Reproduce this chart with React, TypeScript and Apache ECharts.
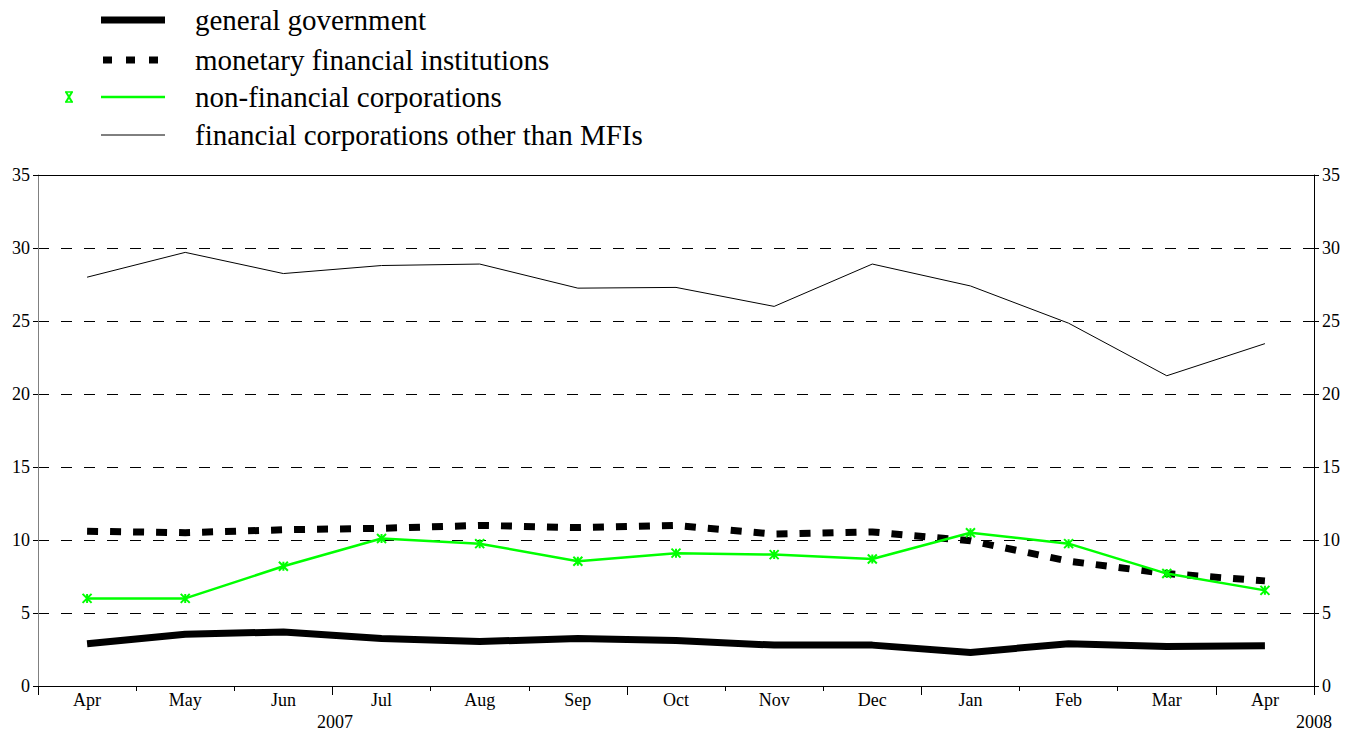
import React, { useEffect, useRef } from "react";
import * as echarts from "echarts";

const months = ["Apr", "May", "Jun", "Jul", "Aug", "Sep", "Oct", "Nov", "Dec", "Jan", "Feb", "Mar", "Apr"];
const years = ["2007", "2008"];

const seriesNames = [
  "general government",
  "monetary financial institutions",
  "non-financial corporations",
  "financial corporations other than MFIs",
];

const generalGovernment = [2.9, 3.55, 3.7, 3.25, 3.05, 3.25, 3.12, 2.8, 2.8, 2.3, 2.9, 2.7, 2.75];
const monetaryFinancial = [10.6, 10.5, 10.7, 10.8, 11.0, 10.85, 11.0, 10.4, 10.55, 9.95, 8.55, 7.7, 7.2];
const nonFinancial = [6.0, 6.0, 8.2, 10.1, 9.75, 8.55, 9.1, 9.0, 8.7, 10.5, 9.75, 7.7, 6.55];
const otherFinancial = [28.0, 29.7, 28.25, 28.8, 28.9, 27.25, 27.3, 26.0, 28.9, 27.4, 24.85, 21.25, 23.45];

const FONT = "Liberation Serif";
const GREEN = "#00ff00";
const categories = months.map((m, i) => m + "-" + i);
const STAR = "path://M0,0L10,10M10,0L0,10M5,0L5,10";

export default function App() {
  const ref = useRef<HTMLDivElement>(null);
  useEffect(() => {
    document.body.style.margin = "0";
    const chart = echarts.init(ref.current!, null, { renderer: "svg" });
    const legendY = [20, 60, 97, 135];
    const lx0 = 101, lx1 = 165, tx = 195;
    const g: any[] = [];
    g.push({ type: "line", shape: { x1: lx0, y1: legendY[0], x2: lx1, y2: legendY[0] }, style: { stroke: "#000", lineWidth: 7 } });
    [0, 1, 2].forEach((k) => {
      g.push({ type: "rect", shape: { x: lx0 + 2 + k * 23, y: legendY[1] - 3.5, width: 9, height: 7 }, style: { fill: "#000" } });
    });
    g.push({ type: "line", shape: { x1: lx0, y1: legendY[2], x2: lx1, y2: legendY[2] }, style: { stroke: GREEN, lineWidth: 2.5 } });
    g.push({ type: "line", shape: { x1: 66, y1: legendY[2] - 5, x2: 72, y2: legendY[2] + 5 }, style: { stroke: GREEN, lineWidth: 2 } });
    g.push({ type: "line", shape: { x1: 72, y1: legendY[2] - 5, x2: 66, y2: legendY[2] + 5 }, style: { stroke: GREEN, lineWidth: 2 } });
    g.push({ type: "line", shape: { x1: 65, y1: legendY[2] - 5, x2: 73, y2: legendY[2] - 5 }, style: { stroke: GREEN, lineWidth: 1.5 } });
    g.push({ type: "line", shape: { x1: 65, y1: legendY[2] + 5, x2: 73, y2: legendY[2] + 5 }, style: { stroke: GREEN, lineWidth: 1.5 } });
    g.push({ type: "line", shape: { x1: lx0, y1: legendY[3], x2: lx1, y2: legendY[3] }, style: { stroke: "#000", lineWidth: 1 } });
    seriesNames.forEach((n, i) => {
      g.push({
        type: "text",
        x: tx,
        y: legendY[i],
        style: { text: n, fontFamily: FONT, fontSize: 29, fill: "#000", verticalAlign: "middle" },
      });
    });
    g.push({ type: "text", x: 335, y: 722, style: { text: years[0], fontFamily: FONT, fontSize: 18, fill: "#000", align: "center", verticalAlign: "middle" } });
    g.push({ type: "text", x: 1314, y: 722, style: { text: years[1], fontFamily: FONT, fontSize: 18, fill: "#000", align: "center", verticalAlign: "middle" } });

    const yAxisCommon = {
      type: "value",
      min: 0,
      max: 35,
      interval: 5,
      axisTick: { show: true, length: 5, lineStyle: { color: "#000" } },
      axisLabel: { fontFamily: FONT, fontSize: 18, color: "#000", margin: 8 },
    };

    chart.setOption({
      animation: false,
      backgroundColor: "#fff",
      textStyle: { fontFamily: FONT },
      grid: { left: 38, right: 45, top: 175, bottom: 48, containLabel: false },
      xAxis: [
        {
          type: "category",
          data: categories,
          boundaryGap: true,
          position: "bottom",
          axisLine: { show: true, onZero: false, lineStyle: { color: "#000", width: 1 } },
          axisTick: { show: true, length: 5, interval: 0, lineStyle: { color: "#000" } },
          axisLabel: { fontFamily: FONT, fontSize: 18, color: "#000", margin: 5, interval: 0, formatter: (v: string) => v.split("-")[0] },
          splitLine: { show: false },
        },
        {
          type: "category",
          data: categories,
          boundaryGap: true,
          position: "bottom",
          axisLine: { show: false, onZero: false },
          axisTick: { show: true, length: 9, interval: (i: number) => i % 3 === 0, lineStyle: { color: "#000" } },
          axisLabel: { show: false },
          splitLine: { show: false },
        },
        {
          type: "category",
          data: categories,
          position: "top",
          axisLine: { show: true, onZero: false, lineStyle: { color: "#000", width: 1 } },
          axisTick: { show: false },
          axisLabel: { show: false },
          splitLine: { show: false },
        },
      ],
      yAxis: [
        {
          ...yAxisCommon,
          position: "left",
          axisLine: { show: true, lineStyle: { color: "#808080", width: 1 } },
          splitLine: { show: true, showMinLine: false, showMaxLine: false, lineStyle: { color: "#000", type: [11, 12], width: 1 } },
        },
        {
          ...yAxisCommon,
          position: "right",
          axisLine: { show: true, lineStyle: { color: "#000", width: 1 } },
          splitLine: { show: false },
        },
      ],
      series: [
        {
          name: seriesNames[0],
          type: "line",
          data: generalGovernment,
          symbol: "none",
          lineStyle: { color: "#000", width: 7, cap: "butt", join: "round" },
          z: 3,
        },
        {
          name: seriesNames[1],
          type: "line",
          data: monetaryFinancial,
          symbol: "none",
          lineStyle: { color: "#000", width: 7, type: [11, 12], cap: "butt" },
          z: 3,
        },
        {
          name: seriesNames[3],
          type: "line",
          data: otherFinancial,
          symbol: "none",
          lineStyle: { color: "#000", width: 1 },
          z: 3,
        },
        {
          name: seriesNames[2],
          type: "line",
          data: nonFinancial,
          symbol: STAR,
          symbolSize: 9,
          showSymbol: true,
          itemStyle: { color: GREEN, borderColor: GREEN, borderWidth: 2 },
          lineStyle: { color: GREEN, width: 2.5 },
          z: 4,
        },
      ],
      graphic: g,
    });
    return () => chart.dispose();
  }, []);
  return <div ref={ref} style={{ width: 1359, height: 734 }} />;
}
